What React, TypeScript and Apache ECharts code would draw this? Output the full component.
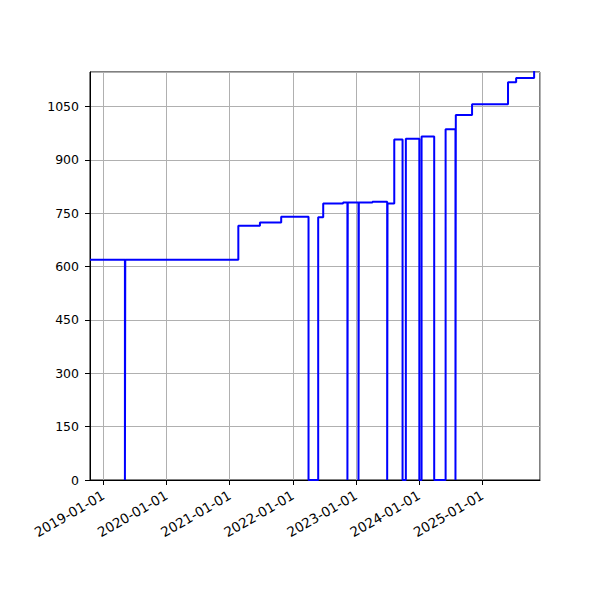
import * as echarts from "echarts";
import { useEffect, useRef } from "react";

// step points: date, value (0 = brief outage)
const dates = [
  "2018-10-16", "2019-05-06", "2019-05-08", "2021-02-20", "2021-06-25",
  "2021-10-26", "2022-04-02", "2022-05-28", "2022-06-26", "2022-10-19",
  "2022-11-13", "2022-11-15", "2023-01-16", "2023-01-18", "2023-04-07",
  "2023-07-01", "2023-07-03", "2023-08-11", "2023-09-28", "2023-10-17",
  "2024-01-03", "2024-01-16", "2024-03-29", "2024-06-03", "2024-07-30",
  "2024-08-01", "2024-11-03", "2025-05-30", "2025-07-16", "2025-10-28",
  "2025-12-01"
];
const values = [
  619, 0, 619, 715, 724,
  740, 0, 739, 777, 780,
  0, 780, 0, 780, 782,
  0, 777, 957, 0, 959,
  0, 966, 0, 986, 0,
  1026, 1056, 1118, 1130, 1160,
  1160
];

const xMin = "2018-10-16";
const xMax = "2025-12-01";
const yMax = 1147;
const yStep = 150;

const DAY = 24 * 3600 * 1000;

export default function App() {
  const ref = useRef<HTMLDivElement>(null);

  useEffect(() => {
    if (!ref.current) return;
    const chart = echarts.init(ref.current, null, { renderer: "svg" });

    chart.setOption({
      animation: false,
      textStyle: { fontFamily: "DejaVu Sans" },
      grid: {
        left: 90, right: 60, top: 72, bottom: 120,
        show: true, borderColor: "#000", borderWidth: 1
      },
      xAxis: {
        type: "time",
        min: xMin,
        max: xMax,
        minInterval: 365 * DAY,
        maxInterval: 366 * DAY,
        axisLine: { lineStyle: { color: "#000", width: 1 } },
        axisTick: { show: true, length: 5, lineStyle: { color: "#000" } },
        axisLabel: {
          color: "#000",
          fontSize: 13.5,
          rotate: 30,
          margin: 14,
          showMinLabel: false,
          showMaxLabel: false,
          formatter: (v: number) => echarts.time.format(v, "{yyyy}-{MM}-{dd}", false)
        },
        splitLine: { show: true, lineStyle: { color: "#b0b0b0", width: 1 } }
      },
      yAxis: {
        type: "value",
        min: 0,
        max: yMax,
        interval: yStep,
        axisLine: { show: true, lineStyle: { color: "#000", width: 1 } },
        axisTick: { show: true, length: 5, lineStyle: { color: "#000" } },
        axisLabel: {
          color: "#000",
          fontSize: 12.5,
          margin: 11,
          showMaxLabel: false,
          formatter: (v: number) => String(v)
        },
        splitLine: { show: true, lineStyle: { color: "#b0b0b0", width: 1 } }
      },
      series: [
        {
          type: "line",
          step: "end",
          showSymbol: false,
          clip: true,
          lineStyle: { color: "#0000ff", width: 2 },
          data: dates.map((d, i) => [d, values[i]])
        }
      ]
    });

    return () => chart.dispose();
  }, []);

  return <div ref={ref} style={{ width: 600, height: 600, margin: -8 }} />;
}
